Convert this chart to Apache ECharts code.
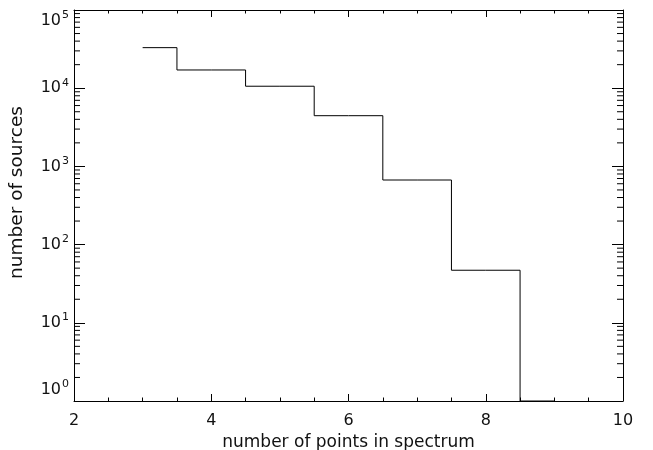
<!DOCTYPE html>
<html>
<head>
<meta charset="utf-8">
<script src="https://cdn.jsdelivr.net/npm/echarts@6/dist/echarts.min.js"></script>
<style>
html,body{margin:0;padding:0;background:#fff;}
#chart{width:653px;height:450px;}
</style>
</head>
<body>
<div id="chart"></div>
<script>
// Histogram data (IDL psym=10 style: centered steps)
const pointCounts = [3, 4, 5, 6, 7, 8, 9];
const sourceCounts = [33000, 17100, 10600, 4450, 670, 47, 1];

// Axis ranges and tick labels
const xMin = 2, xMax = 10, xInterval = 2;
const xTickLabels = ['2', '4', '6', '8', '10'];
const yMin = 1, yMax = 100000;
const decades = [1, 10, 100, 1000, 10000];
const mantissas = [2, 3, 4, 5, 6, 7, 8, 9];

const xTitle = 'number of points in spectrum';
const yTitle = 'number of sources';

const FONT = 'DejaVu Sans';
const TXT = '#111';

const histData = pointCounts.map((x, i) => [x, sourceCounts[i]]);
const minorY = [];
decades.forEach(d => mantissas.forEach(m => minorY.push([xMin, d * m])));

const chart = echarts.init(document.getElementById('chart'), null, {renderer: 'canvas'});

const axisLineStyle = {color: '#000', width: 1};

const option = {
  backgroundColor: '#fff',
  animation: false,
  grid: {left: 74, right: 30, top: 10, bottom: 49, containLabel: false, outerBoundsMode: 'none'},
  xAxis: [{
    type: 'value', min: xMin, max: xMax, interval: xInterval,
    position: 'bottom',
    axisLine: {show: true, onZero: false, lineStyle: axisLineStyle},
    axisTick: {show: true, inside: true, length: 7, lineStyle: axisLineStyle},
    minorTick: {show: true, splitNumber: 4, length: 3.5, lineStyle: axisLineStyle},
    splitLine: {show: false},
    axisLabel: {
      show: true, margin: 12, fontFamily: FONT, fontSize: 16, color: TXT,
      formatter: v => xTickLabels[Math.round((v - xMin) / xInterval)]
    },
    name: xTitle, nameLocation: 'middle', nameGap: 30,
    nameTextStyle: {fontFamily: FONT, fontSize: 17, color: TXT}
  }, {
    type: 'value', min: xMin, max: xMax, interval: xInterval,
    position: 'top',
    axisLine: {show: true, onZero: false, lineStyle: axisLineStyle},
    axisTick: {show: true, inside: true, length: 7, lineStyle: axisLineStyle},
    minorTick: {show: true, splitNumber: 4, length: 3.5, lineStyle: axisLineStyle},
    splitLine: {show: false},
    axisLabel: {show: false}
  }],
  yAxis: [{
    type: 'log', logBase: 10, min: yMin, max: yMax,
    position: 'left',
    axisLine: {show: true, onZero: false, lineStyle: axisLineStyle},
    axisTick: {show: true, inside: true, length: 11, lineStyle: axisLineStyle},
    minorTick: {show: false},
    splitLine: {show: false},
    axisLabel: {
      show: true, margin: 5, color: TXT,
      verticalAlignMinLabel: 'bottom', verticalAlignMaxLabel: 'top',
      formatter: v => '{b|10}{s|' + Math.round(Math.log10(v)) + '}',
      rich: {
        b: {fontFamily: FONT, fontSize: 16, color: TXT},
        s: {fontFamily: FONT, fontSize: 11, color: TXT, padding: [0, 0, 11, 1]}
      }
    },
    name: yTitle, nameLocation: 'middle', nameGap: 47, nameRotate: 90,
    nameTextStyle: {fontFamily: FONT, fontSize: 18.5, color: TXT, padding: [0, 0, 0, 26]}
  }, {
    type: 'log', logBase: 10, min: yMin, max: yMax,
    position: 'right',
    axisLine: {show: true, onZero: false, lineStyle: axisLineStyle},
    axisTick: {show: true, inside: true, length: 11, lineStyle: axisLineStyle},
    splitLine: {show: false},
    axisLabel: {show: false}
  }],
  series: [{
    type: 'line',
    data: histData,
    step: 'middle',
    symbol: 'none',
    lineStyle: {color: '#000', width: 1},
    xAxisIndex: 0, yAxisIndex: 0,
    z: 3
  }, {
    type: 'custom',
    xAxisIndex: 0, yAxisIndex: 0,
    data: minorY,
    silent: true,
    clip: false,
    renderItem: function (params, api) {
      const v = api.value(1);
      const pl = api.coord([xMin, v]);
      const pr = api.coord([xMax, v]);
      const len = 6;
      return {
        type: 'group',
        children: [
          {type: 'line', shape: {x1: pl[0], y1: pl[1], x2: pl[0] + len, y2: pl[1]}, style: {stroke: '#000', lineWidth: 1}},
          {type: 'line', shape: {x1: pr[0], y1: pr[1], x2: pr[0] - len, y2: pr[1]}, style: {stroke: '#000', lineWidth: 1}}
        ]
      };
    }
  }]
};
chart.setOption(option);
</script>
</body>
</html>
